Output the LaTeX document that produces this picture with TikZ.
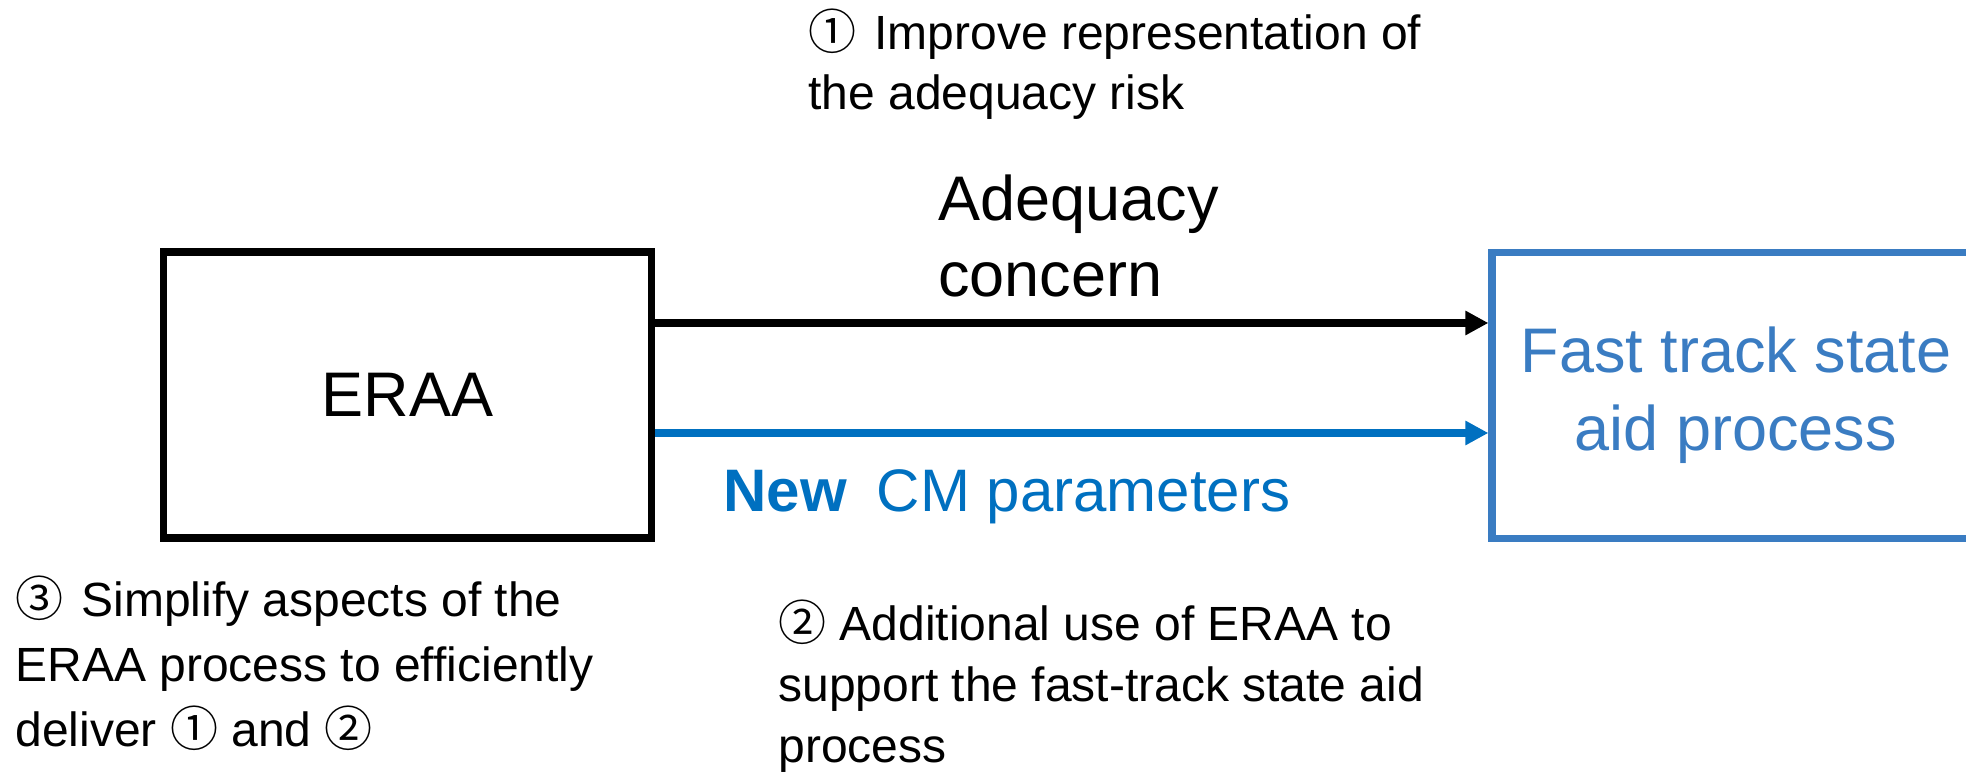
\documentclass[tikz,border=0pt]{standalone}
\usepackage{fontspec}
\setmainfont{Liberation Sans}
\newfontfamily\circfont{Noto Sans CJK JP}
\usetikzlibrary{arrows.meta}
\definecolor{cmblue}{RGB}{0,112,192}
\definecolor{fastblue}{RGB}{58,124,194}
\newcommand{\circnum}[1]{{\circfont\fontsize{24pt}{0pt}\selectfont #1}}

\begin{document}
\begin{tikzpicture}[
  x=0.5pt, y=-0.5pt,
  box/.style={draw, line width=3.6pt, minimum width=244pt, minimum height=143pt,
              align=center, inner sep=0pt, font=\fontsize{31.5pt}{39pt}\selectfont},
  arr/.style={-{Triangle[length=11.5pt,width=11.5pt]}, line width=3.6pt},
  big/.style={font=\fontsize{31.5pt}{38pt}\selectfont, align=left, inner sep=0pt, anchor=base west},
  note/.style={font=\fontsize{24pt}{30pt}\selectfont, align=left, inner sep=0pt, anchor=base west},
]
\useasboundingbox (0,0) rectangle (1966,779);
\node[box] (eraa) at (407.5,395) {ERAA};
\node[box, draw=fastblue, text=fastblue] (fast) at (1736,395.5) {Fast track state\\aid process};
\draw[arr] ([yshift=36pt]eraa.east) -- ([yshift=36pt]eraa.east -| fast.west);
\draw[arr, cmblue] ([yshift=-19pt]eraa.east) -- ([yshift=-19pt]eraa.east -| fast.west);
% labels of the two arrows (placed by their last baseline)
\node[big] (adq) at (938,297) {Adequacy\\concern};
\node[big, font=\fontsize{30pt}{36pt}\selectfont, text=cmblue] (cm) at (723,512)
  {\textbf{New}\hspace{15pt}CM parameters};
% numbered notes
\node[note] (risk) at (808,110) {\circnum{①}\hspace{9pt}Improve representation of\\the adequacy risk};
\node[note, font=\fontsize{24pt}{32.5pt}\selectfont] (simp) at (15,747)
  {\circnum{③}\hspace{9pt}Simplify aspects of the\\ERAA process to efficiently\\deliver \circnum{①} and \circnum{②}};
\node[note, font=\fontsize{24pt}{30.5pt}\selectfont] (use) at (778,763)
  {\circnum{②} Additional use of ERAA to\\support the fast-track state aid\\process};
\end{tikzpicture}
\end{document}
